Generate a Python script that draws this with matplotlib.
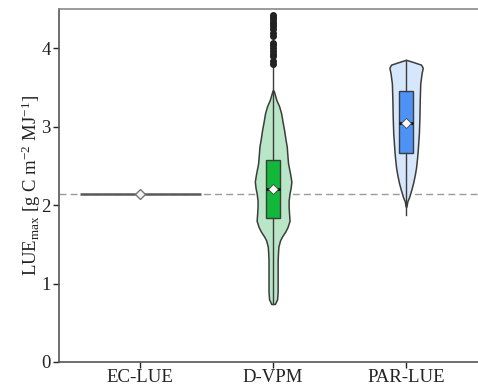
import numpy as np
import matplotlib
matplotlib.use("Agg")
import matplotlib.pyplot as plt

plt.rcParams['font.family'] = ['Liberation Serif', 'DejaVu Serif']
plt.rcParams['mathtext.fontset'] = 'custom'
plt.rcParams['mathtext.rm'] = 'Liberation Serif'
plt.rcParams['mathtext.it'] = 'Liberation Serif:italic'

# data
models = ["EC-LUE", "D-VPM", "PAR-LUE"]
ec_lue_value = 2.14
ref_line = 2.145

# D-VPM distribution outline (value, relative density)
dvpm_coords = [0.74, 0.80, 0.90, 1.10, 1.30, 1.40, 1.47, 1.55, 1.60, 1.66, 1.72, 1.80,
               1.90, 1.98, 2.06, 2.15, 2.22, 2.30, 2.40, 2.53, 2.64, 2.74, 2.85, 2.96,
               3.06, 3.17, 3.26, 3.34, 3.42, 3.46]
dvpm_dens = [0.10, 0.22, 0.25, 0.25, 0.25, 0.27, 0.29, 0.38, 0.49, 0.66, 0.79, 0.90,
             0.87, 0.85, 0.85, 0.90, 0.96, 1.00, 0.93, 0.82, 0.78, 0.75, 0.67, 0.60,
             0.52, 0.44, 0.33, 0.18, 0.08, 0.03]
dvpm_box = dict(q1=1.84, med=2.21, q3=2.58, whislo=0.74, whishi=3.76, mean=2.21)
dvpm_fliers = [3.80, 3.84, 3.90, 3.93, 3.96, 4.00, 4.04, 4.07, 4.16, 4.19,
               4.25, 4.28, 4.31, 4.34, 4.37, 4.40, 4.42]

# PAR-LUE distribution outline (value, relative density)
par_coords = [1.98, 2.05, 2.10, 2.20, 2.28, 2.38, 2.48, 2.60, 2.70, 2.92, 3.12,
              3.34, 3.55, 3.68, 3.75, 3.79, 3.82, 3.85]
par_dens = [0.02, 0.08, 0.18, 0.32, 0.42, 0.52, 0.60, 0.66, 0.70, 0.77, 0.80,
            0.82, 0.85, 0.93, 1.00, 0.90, 0.48, 0.03]
par_box = dict(q1=2.66, med=3.05, q3=3.45, whislo=1.87, whishi=3.85, mean=3.05)
par_fliers = []

violin_fill = ["#b8e6c6", "#d6e6fb"]
box_fill = ["#12b83a", "#4d92f4"]
edge = "#3c3c3c"

fig = plt.figure(figsize=(4.78, 3.85), dpi=100)
ax = fig.add_axes([59 / 478, 23 / 385, 0.893, 0.917])

pos = np.arange(len(models))

# reference dashed line
ax.axhline(ref_line, color="#9a9a9a", lw=1.0, ls=(0, (5, 3)), zorder=1)

# EC-LUE has a single value -> flat violin
ax.hlines(ec_lue_value, pos[0] - 0.455, pos[0] + 0.455, color="#5a5a5a", lw=1.8, zorder=2)
ax.plot(pos[0], ec_lue_value, marker="D", ms=5, mfc="#f4f4f4", mec="#777777", mew=1.0, zorder=4)

vp_stats = []
for c, d in [(dvpm_coords, dvpm_dens), (par_coords, par_dens)]:
    vp_stats.append(dict(coords=np.array(c), vals=np.array(d), mean=np.nan, median=np.nan,
                         min=min(c), max=max(c)))
vp = ax.violin(vp_stats, positions=pos[1:], widths=[0.275, 0.251],
               showmeans=False, showextrema=False, showmedians=False)
for body, col in zip(vp["bodies"], violin_fill):
    body.set_facecolor(col)
    body.set_edgecolor(edge)
    body.set_linewidth(1.1)
    body.set_alpha(1)
    body.set_zorder(2)

bx_stats = []
for b, f in [(dvpm_box, dvpm_fliers), (par_box, par_fliers)]:
    s = dict(b)
    s["fliers"] = f
    bx_stats.append(s)
bp = ax.bxp(bx_stats, positions=pos[1:], widths=0.1, patch_artist=True,
            showmeans=True, showcaps=False, zorder=3,
            boxprops=dict(edgecolor=edge, linewidth=1.0),
            whiskerprops=dict(color=edge, linewidth=1.0),
            medianprops=dict(color="#111111", linewidth=2.0),
            meanprops=dict(marker="D", markerfacecolor="white", markeredgecolor="#444444",
                           markersize=5, markeredgewidth=0.6),
            flierprops=dict(marker="o", markerfacecolor="#222222", markeredgecolor="#222222",
                            markersize=4))
for patch, col in zip(bp["boxes"], box_fill):
    patch.set_facecolor(col)

ax.set_xlim(-0.61, 2.6)
ax.set_ylim(0, 4.5)
ax.set_xticks(pos)
ax.set_xticklabels(models, fontsize=13.5, color="#222222")
ax.set_yticks([0, 1, 2, 3, 4])
ax.tick_params(axis="y", labelsize=13.5, colors="#222222", length=4, width=1, direction="out", pad=2)
ax.tick_params(axis="x", length=4, width=1, colors="#222222", pad=1)
ax.set_ylabel(r"LUE$_{\mathrm{max}}$ [g C m$^{-2}$ MJ$^{-1}$]", fontsize=13.5, color="#222222",
              labelpad=-1)

for side in ["left", "bottom", "top"]:
    ax.spines[side].set_color("#555555")
    ax.spines[side].set_linewidth(1.2)
ax.spines["top"].set_color("#8a8a8a")
ax.spines["right"].set_visible(False)

fig.savefig("out.png", dpi=100)
